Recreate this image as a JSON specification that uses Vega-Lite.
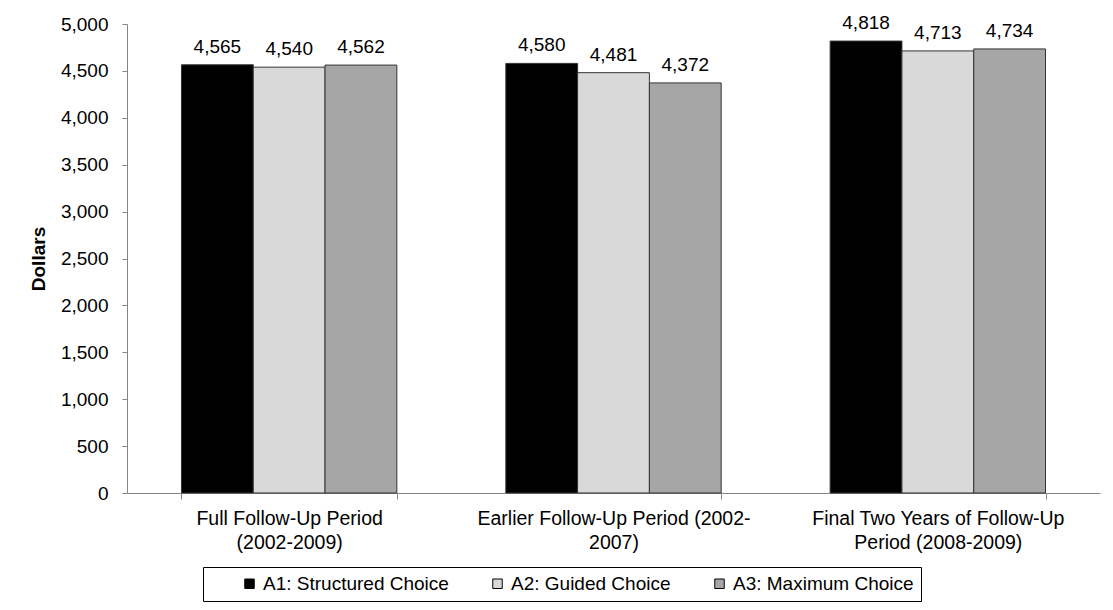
{
  "$schema": "https://vega.github.io/schema/vega-lite/v6.json",
  "width": 973,
  "height": 469,
  "autosize": {"type": "none"},
  "padding": {"left": 127, "top": 24, "right": 13, "bottom": 117},
  "background": "white",
  "config": {
    "font": "Liberation Sans",
    "view": {"stroke": null}
  },
  "data": {
    "values": [
      {"period": "Full Follow-Up Period|(2002-2009)", "arm": "A1: Structured Choice", "value": 4565},
      {"period": "Full Follow-Up Period|(2002-2009)", "arm": "A2: Guided Choice", "value": 4540},
      {"period": "Full Follow-Up Period|(2002-2009)", "arm": "A3: Maximum Choice", "value": 4562},
      {"period": "Earlier Follow-Up Period (2002-|2007)", "arm": "A1: Structured Choice", "value": 4580},
      {"period": "Earlier Follow-Up Period (2002-|2007)", "arm": "A2: Guided Choice", "value": 4481},
      {"period": "Earlier Follow-Up Period (2002-|2007)", "arm": "A3: Maximum Choice", "value": 4372},
      {"period": "Final Two Years of Follow-Up|Period (2008-2009)", "arm": "A1: Structured Choice", "value": 4818},
      {"period": "Final Two Years of Follow-Up|Period (2008-2009)", "arm": "A2: Guided Choice", "value": 4713},
      {"period": "Final Two Years of Follow-Up|Period (2008-2009)", "arm": "A3: Maximum Choice", "value": 4734}
    ]
  },
  "encoding": {
    "x": {
      "field": "period",
      "type": "nominal",
      "sort": ["Full Follow-Up Period|(2002-2009)", "Earlier Follow-Up Period (2002-|2007)", "Final Two Years of Follow-Up|Period (2008-2009)"],
      "scale": {"paddingInner": 0.336, "paddingOuter": 0.168},
      "axis": {
        "title": null,
        "labelAngle": 0,
        "labelExpr": "split(datum.label, '|')",
        "labelFontSize": 19.5,
        "labelLineHeight": 24,
        "labelPadding": 10,
        "labelLimit": 400,
        "labelColor": "#000000",
        "tickBand": "extent",
        "tickSize": 6,
        "tickColor": "#868686",
        "domainColor": "#868686",
        "grid": false
      }
    },
    "xOffset": {
      "field": "arm",
      "type": "nominal",
      "sort": ["A1: Structured Choice", "A2: Guided Choice", "A3: Maximum Choice"],
      "scale": {"paddingInner": 0, "paddingOuter": 0}
    },
    "y": {
      "field": "value",
      "type": "quantitative",
      "scale": {"domain": [0, 5000], "nice": false},
      "axis": {
        "title": "Dollars",
        "titleFontSize": 19,
        "titleFontWeight": "bold",
        "titleColor": "#000000",
        "titlePadding": 12,
        "values": [0, 500, 1000, 1500, 2000, 2500, 3000, 3500, 4000, 4500, 5000],
        "format": ",.0f",
        "labelFontSize": 19,
        "labelPadding": 14,
        "labelColor": "#000000",
        "tickSize": 5,
        "tickColor": "#868686",
        "domainColor": "#868686",
        "grid": false
      }
    }
  },
  "layer": [
    {
      "mark": {"type": "bar", "stroke": "#333333", "strokeWidth": 1},
      "encoding": {
        "fill": {
          "field": "arm",
          "type": "nominal",
          "scale": {
            "domain": ["A1: Structured Choice", "A2: Guided Choice", "A3: Maximum Choice"],
            "range": ["#000000", "#d9d9d9", "#a6a6a6"]
          },
          "legend": {
            "title": null,
            "orient": "none",
            "direction": "horizontal",
            "legendX": 76,
            "legendY": 543,
            "strokeColor": "#000000",
            "fillColor": "#ffffff",
            "padding": 7,
            "symbolOffset": 30,
            "symbolType": "square",
            "symbolSize": 90,
            "symbolStrokeColor": "#000000",
            "symbolStrokeWidth": 1,
            "symbolOpacity": 1,
            "labelFontSize": 19,
            "labelOffset": 4,
            "labelColor": "#000000",
            "labelLimit": 300,
            "columnPadding": 9
          }
        }
      }
    },
    {
      "mark": {"type": "text", "dy": -12, "baseline": "alphabetic", "fontSize": 19, "color": "#000000"},
      "encoding": {
        "text": {"field": "value", "type": "quantitative", "format": ","}
      }
    }
  ]
}
